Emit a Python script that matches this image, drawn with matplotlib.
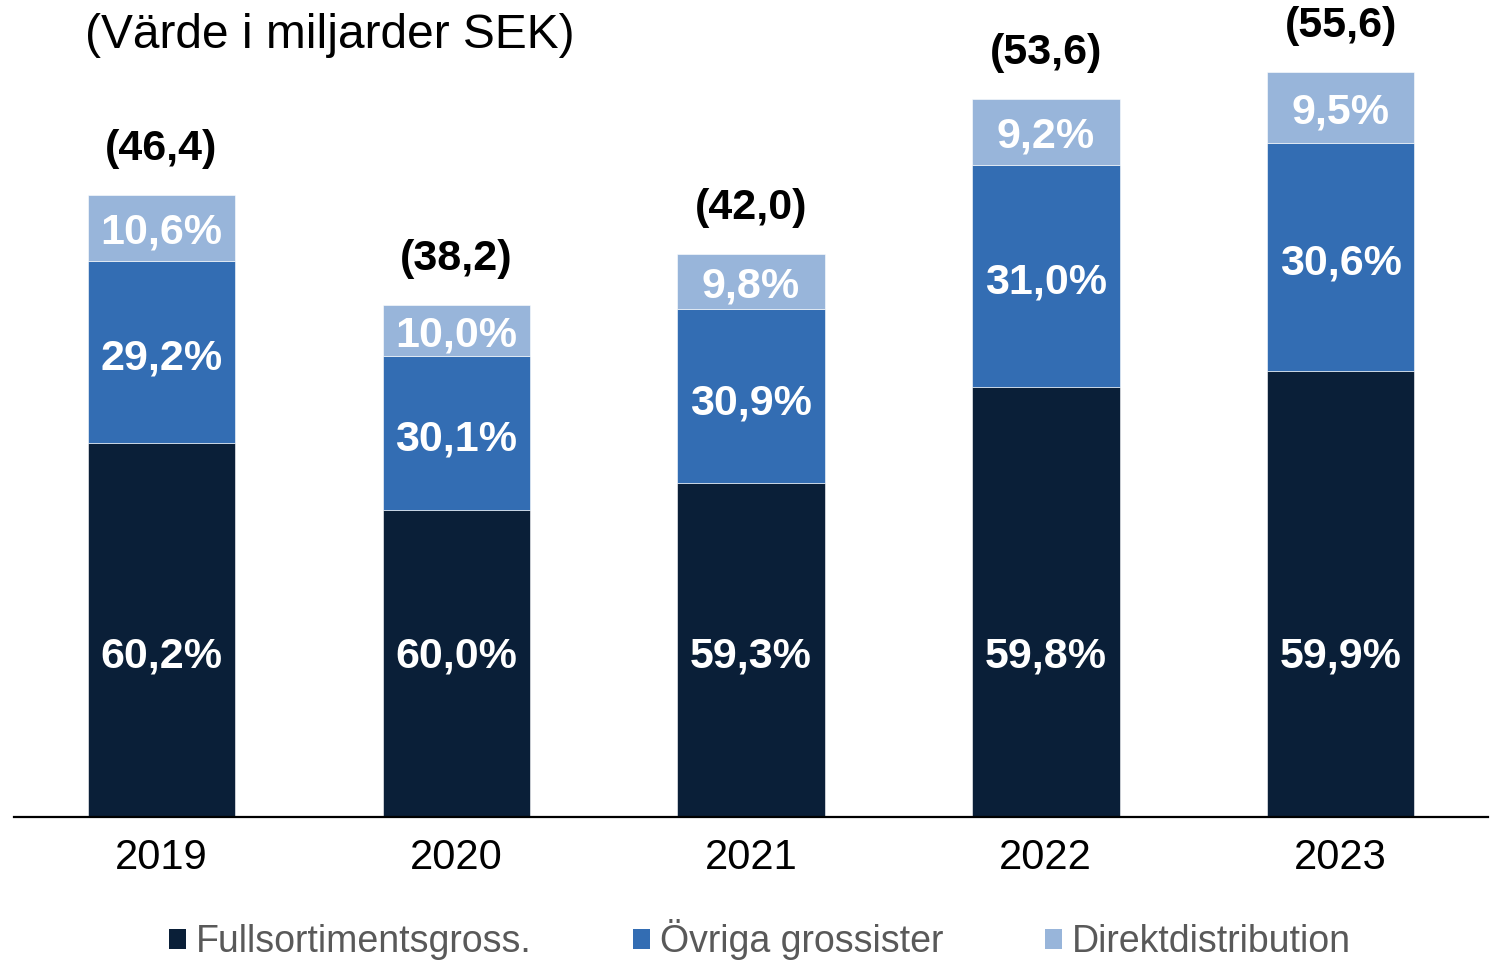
import matplotlib.pyplot as plt
from matplotlib.patches import Patch
import numpy as np

plt.rcParams['font.family'] = ['Liberation Sans', 'DejaVu Sans']

years = ['2019', '2020', '2021', '2022', '2023']
totals = [46.4, 38.2, 42.0, 53.6, 55.6]
pct_full = [60.2, 60.0, 59.3, 59.8, 59.9]
pct_ovriga = [29.2, 30.1, 30.9, 31.0, 30.6]
pct_direkt = [10.6, 10.0, 9.8, 9.2, 9.5]
series_names = ['Fullsortimentsgross.', 'Övriga grossister', 'Direktdistribution']

c_dark = '#0a1f38'
c_mid = '#336db3'
c_light = '#98b5da'


def fmt(v, dec=1):
    return f'{v:.{dec}f}'.replace('.', ',')


fig = plt.figure(figsize=(14.93, 9.6), dpi=100)
ax = fig.add_axes([14 / 1493, 143 / 960, 1474 / 1493, 817 / 960])

x = np.arange(len(years))
tot = np.array(totals)
v_full = tot * np.array(pct_full) / 100
v_ovr = tot * np.array(pct_ovriga) / 100
v_dir = tot - v_full - v_ovr

w = 0.5
ax.bar(x, v_full, w, color=c_dark, edgecolor='white', linewidth=0.4)
ax.bar(x, v_ovr, w, bottom=v_full, color=c_mid, edgecolor='white', linewidth=0.4)
ax.bar(x, v_dir, w, bottom=v_full + v_ovr, color=c_light, edgecolor='white', linewidth=0.4)

lab_kw = dict(ha='center', va='center', color='white', fontsize=31, fontweight='bold')
for i in range(len(years)):
    # dark labels sit at the same height in every bar
    ax.text(x[i], 12.0, fmt(pct_full[i]) + '%', **lab_kw)
    ax.text(x[i], v_full[i] + v_ovr[i] / 2 - 0.5, fmt(pct_ovriga[i]) + '%', **lab_kw)
    ax.text(x[i], v_full[i] + v_ovr[i] + v_dir[i] / 2 - 0.35, fmt(pct_direkt[i]) + '%', **lab_kw)
    ax.text(x[i], tot[i] + 3.45, '(' + fmt(totals[i]) + ')', ha='center', va='center',
            color='black', fontsize=31, fontweight='bold')

ax.set_xlim(-0.5, 4.5)
ax.set_ylim(0, 817 / 13.4)
ax.set_xticks(x)
ax.set_xticklabels(years, fontsize=30)
ax.tick_params(axis='x', length=0, pad=15)
ax.set_yticks([])
for s in ['top', 'right', 'left']:
    ax.spines[s].set_visible(False)
ax.spines['bottom'].set_linewidth(1.6)
ax.spines['bottom'].set_color('black')

fig.text(85 / 1493, 1 - 35 / 960, '(Värde i miljarder SEK)', ha='left', va='center',
         fontsize=34.5, color='black')

handles = [Patch(facecolor=c, edgecolor='none') for c in (c_dark, c_mid, c_light)]
fig.legend(handles, series_names, loc='center', bbox_to_anchor=(760 / 1493, 20 / 960),
           ncol=3, frameon=False, labelcolor='#595959', fontsize=27,
           handlelength=0.45, handleheight=0.45, handletextpad=0.27, columnspacing=2.7,
           borderpad=0, borderaxespad=0)

fig.savefig('out.png', dpi=100)
